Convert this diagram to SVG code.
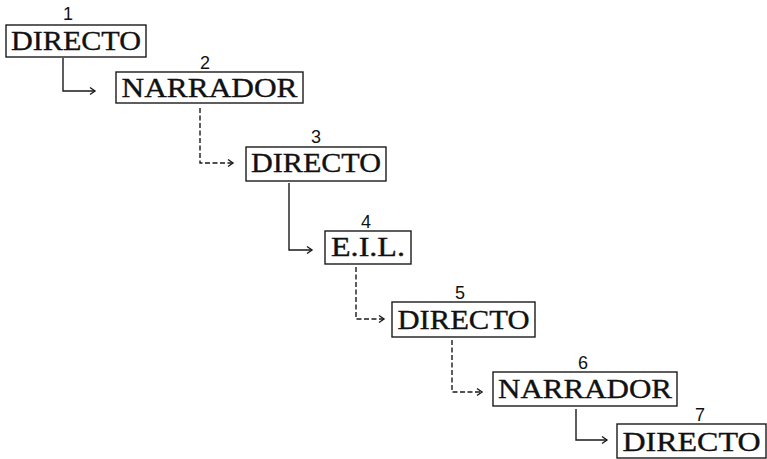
<svg xmlns="http://www.w3.org/2000/svg" width="767" height="459" viewBox="0 0 767 459">
<style>
.box{fill:none;stroke:#1a1a1a;stroke-width:1.4}
.lbl{font-family:"Liberation Serif","Times New Roman",serif;font-size:27px;fill:#111;stroke:#111;stroke-width:0.35;text-anchor:middle}
.num{font-family:"Liberation Sans",Arial,sans-serif;font-size:18px;fill:#111;text-anchor:middle}
.conn{fill:none;stroke:#1a1a1a;stroke-width:1.4}
.dash{stroke-dasharray:5 2.5}
</style>
<defs>
<marker id="arr" markerWidth="10" markerHeight="10" refX="8" refY="5" orient="auto" markerUnits="userSpaceOnUse">
<path d="M3,1.5 L8,5 L3,8.5" fill="none" stroke="#1a1a1a" stroke-width="1.4"/>
</marker>
</defs>
<rect width="767" height="459" fill="#fff"/>
<g id="connectors">
<path class="conn" d="M63,58 V91 H95" marker-end="url(#arr)"/>
<path class="conn dash" d="M200,108 V163 H233" marker-end="url(#arr)"/>
<path class="conn" d="M289,183 V250 H312" marker-end="url(#arr)"/>
<path class="conn dash" d="M356,267 V319 H384" marker-end="url(#arr)"/>
<path class="conn dash" d="M452,340 V392 H482" marker-end="url(#arr)"/>
<path class="conn" d="M576,409 V440 H607" marker-end="url(#arr)"/>
</g>
<g id="n1">
<text class="num" x="68" y="20">1</text>
<rect class="box" x="6" y="25" width="140" height="32"/>
<text class="lbl" x="76" y="50" textLength="130" lengthAdjust="spacingAndGlyphs">DIRECTO</text>
</g>
<g id="n2">
<text class="num" x="205" y="69">2</text>
<rect class="box" x="116" y="72" width="187" height="31"/>
<text class="lbl" x="209.5" y="97" textLength="176" lengthAdjust="spacingAndGlyphs">NARRADOR</text>
</g>
<g id="n3">
<text class="num" x="316" y="143">3</text>
<rect class="box" x="246" y="147" width="140" height="34"/>
<text class="lbl" x="316" y="172" textLength="130" lengthAdjust="spacingAndGlyphs">DIRECTO</text>
</g>
<g id="n4">
<text class="num" x="366" y="228">4</text>
<rect class="box" x="325" y="231" width="86" height="33"/>
<text class="lbl" x="368" y="256" textLength="74" lengthAdjust="spacingAndGlyphs">E.I.L.</text>
</g>
<g id="n5">
<text class="num" x="460" y="299">5</text>
<rect class="box" x="392" y="302" width="143" height="35"/>
<text class="lbl" x="463.5" y="329" textLength="132" lengthAdjust="spacingAndGlyphs">DIRECTO</text>
</g>
<g id="n6">
<text class="num" x="583" y="369">6</text>
<rect class="box" x="493" y="372" width="184" height="34"/>
<text class="lbl" x="585" y="398" textLength="174" lengthAdjust="spacingAndGlyphs">NARRADOR</text>
</g>
<g id="n7">
<text class="num" x="700" y="421">7</text>
<rect class="box" x="617" y="424" width="149" height="34"/>
<text class="lbl" x="691.5" y="451" textLength="138" lengthAdjust="spacingAndGlyphs">DIRECTO</text>
</g>
</svg>
